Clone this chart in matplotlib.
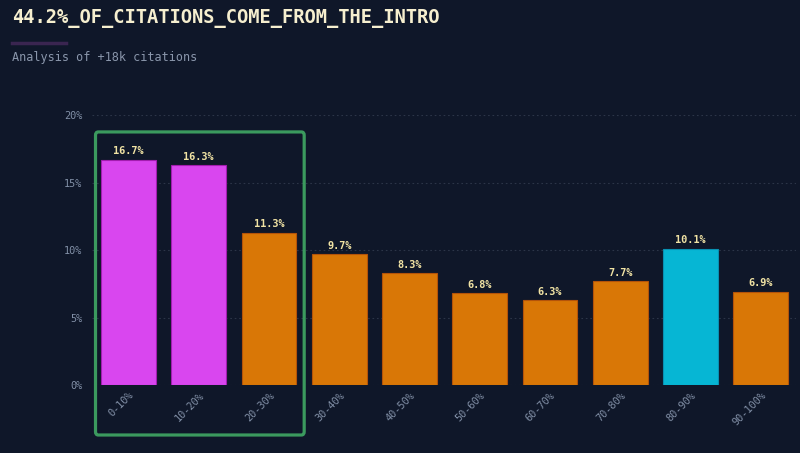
import matplotlib.pyplot as plt
from matplotlib.patches import FancyBboxPatch
from matplotlib.lines import Line2D
import matplotlib.transforms as mtransforms

# datos
tramos = ['0-10%', '10-20%', '20-30%', '30-40%', '40-50%',
          '50-60%', '60-70%', '70-80%', '80-90%', '90-100%']
porcentajes = [16.7, 16.3, 11.3, 9.7, 8.3, 6.8, 6.3, 7.7, 10.1, 6.9]
grupos = ['intro', 'intro', 'otro', 'otro', 'otro',
          'otro', 'otro', 'otro', 'final', 'otro']
marcas_y = [0, 5, 10, 15, 20]

FONDO = '#0f1729'
colores = {'intro': '#d946ef', 'otro': '#d97706', 'final': '#06b6d4'}
bordes = {'intro': '#a21caf', 'otro': '#b45309', 'final': '#0891b2'}

plt.rcParams['font.family'] = ['DejaVu Sans Mono']

fig = plt.figure(figsize=(8, 4.53), dpi=100, facecolor=FONDO)
ax = fig.add_axes([0.115, 0.150, 0.88, 0.596])
ax.set_facecolor(FONDO)

x = list(range(len(tramos)))
barras = ax.bar(x, porcentajes, width=0.78,
                color=[colores[g] for g in grupos],
                edgecolor=[bordes[g] for g in grupos], linewidth=0.8,
                zorder=3)

for b, v in zip(barras, porcentajes):
    ax.annotate(f'{v}%', (b.get_x() + b.get_width() / 2, v),
                xytext=(0, 2.5), textcoords='offset points',
                ha='center', va='bottom', fontsize=7.4, fontweight='bold',
                color='#f1e3a4', zorder=4)

ax.set_xlim(-0.52, 9.5)
ax.set_ylim(0, 20)
ax.set_yticks(marcas_y)
ax.set_yticklabels([f'{m}%' for m in marcas_y])
ax.set_xticks(x)
ax.set_xticklabels(tramos, rotation=45, ha='right', rotation_mode='anchor')
desplaza = mtransforms.ScaledTranslation(6 / 72, -6 / 72, fig.dpi_scale_trans)
for lab in ax.get_xticklabels():
    lab.set_transform(lab.get_transform() + desplaza)

ax.tick_params(axis='both', length=0, labelsize=7.4, colors='#8290a7')
ax.tick_params(axis='y', pad=7)
for s in ax.spines.values():
    s.set_visible(False)
ax.grid(axis='y', color='#2c3548', linestyle=(0, (1.5, 2.5)), linewidth=0.8, zorder=0)

# recuadro verde alrededor de la intro
caja = FancyBboxPatch((-0.47, -3.7), 2.97, 22.45,
                      boxstyle='round,pad=0,rounding_size=0.04',
                      mutation_aspect=6,
                      fill=False, edgecolor='#3b9a5e', linewidth=2.3,
                      clip_on=False, zorder=5)
ax.add_patch(caja)

fig.text(0.015, 0.96, '44.2%_OF_CITATIONS_COME_FROM_THE_INTRO',
         fontsize=13.5, fontweight='bold', color='#f6efcf', va='center')
fig.text(0.015, 0.872, 'Analysis of +18k citations',
         fontsize=8.6, color='#8a96ab', va='center')
fig.add_artist(Line2D([0.015, 0.082], [0.905, 0.905], color='#3a2550',
                      linewidth=2.5, transform=fig.transFigure))

fig.savefig('out.png', dpi=100, facecolor=FONDO)
